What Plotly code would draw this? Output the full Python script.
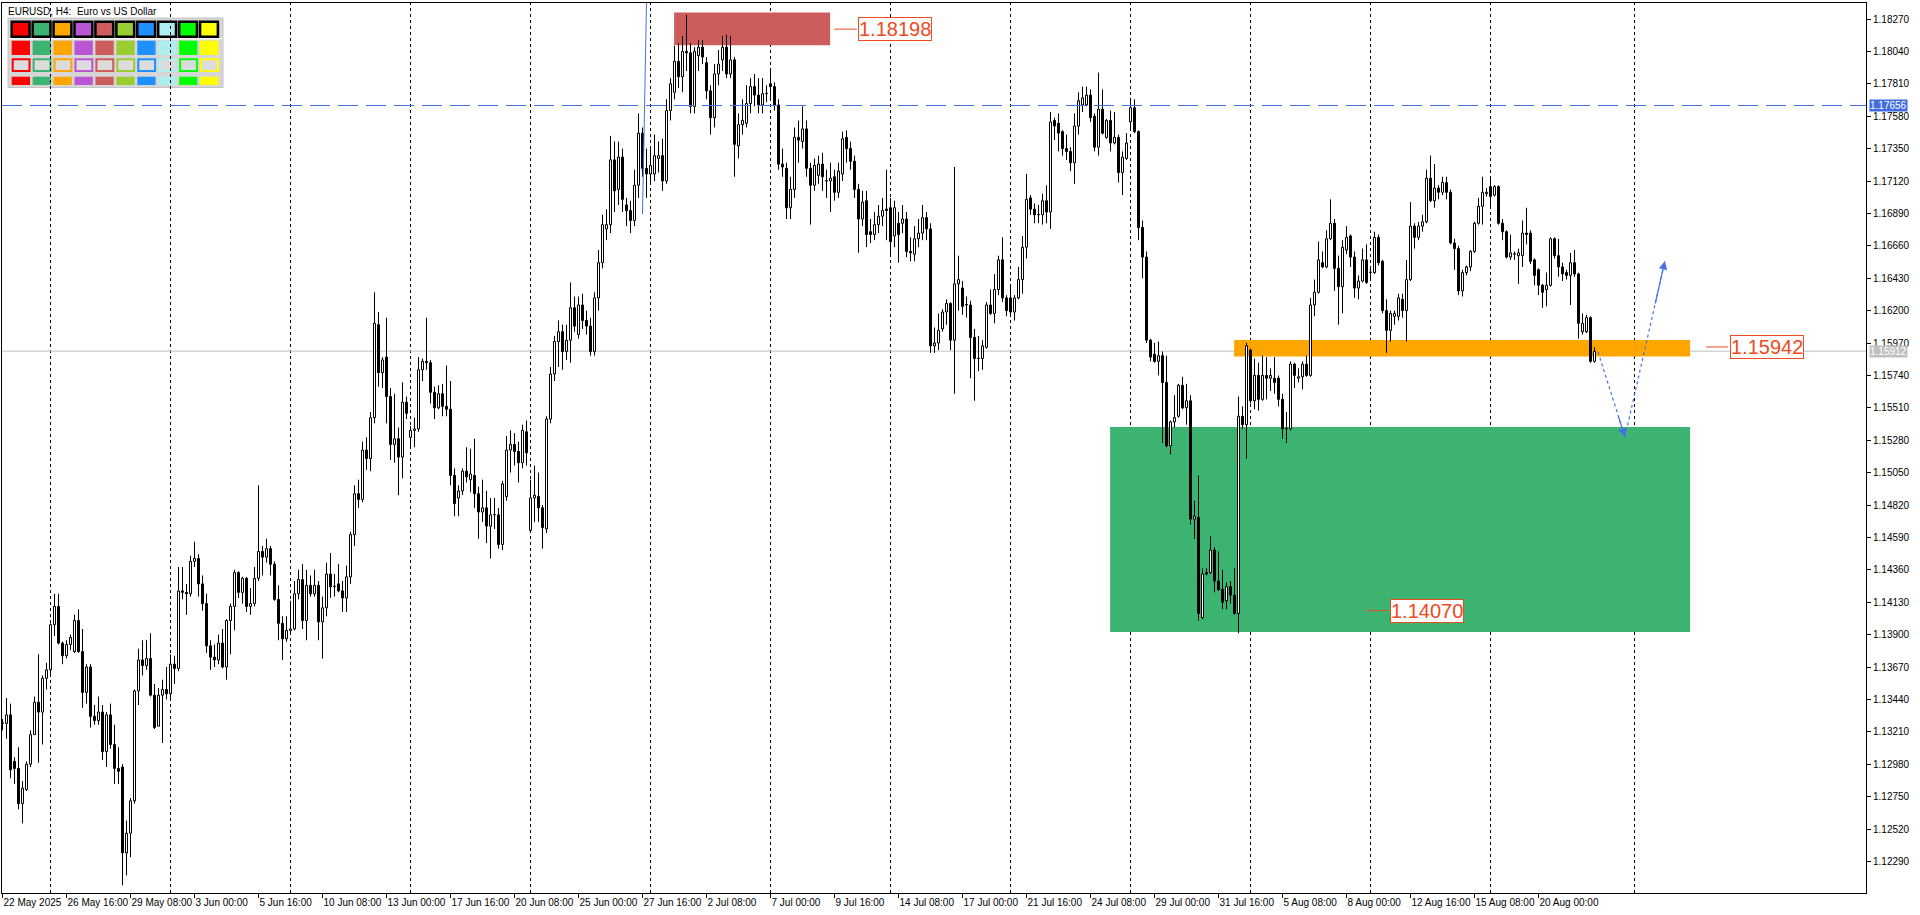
import plotly.graph_objects as go

# EURUSD H4 candles, bar 0 = 22 May 2025 00:00 ... bar 398 = 22 Aug 2025 08:00
OPEN = [
    1.1327, 1.1327, 1.1333, 1.1300, 1.1295, 1.1270, 1.1280, 1.1298, 1.1319, 1.1342,
    1.1335, 1.1359, 1.1365, 1.1397, 1.1410, 1.1384, 1.1375, 1.1383, 1.1378, 1.1400,
    1.1378, 1.1349, 1.1367, 1.1332, 1.1329, 1.1335, 1.1307, 1.1333, 1.1312, 1.1295,
    1.1296, 1.1235, 1.1249, 1.1272, 1.1350, 1.1372, 1.1368, 1.1373, 1.1347, 1.1325,
    1.1347, 1.1351, 1.1348, 1.1369, 1.1366, 1.1421, 1.1420, 1.1419, 1.1442, 1.1444,
    1.1426, 1.1412, 1.1382, 1.1374, 1.1372, 1.1384, 1.1367, 1.1400, 1.1410, 1.1434,
    1.1420, 1.1430, 1.1410, 1.1412, 1.1430, 1.1449, 1.1445, 1.1451, 1.1440, 1.1415,
    1.1398, 1.1387, 1.1393, 1.1394, 1.1419, 1.1429, 1.1400, 1.1425, 1.1419, 1.1425,
    1.1399, 1.1409, 1.1433, 1.1424, 1.1426, 1.1421, 1.1416, 1.1431, 1.1461, 1.1490,
    1.1486, 1.1521, 1.1515, 1.1544, 1.1610, 1.1576, 1.1587, 1.1559, 1.1525, 1.1529,
    1.1516, 1.1555, 1.1530, 1.1535, 1.1536, 1.1578, 1.1584, 1.1583, 1.1562, 1.1551,
    1.1561, 1.1552, 1.1550, 1.1503, 1.1487, 1.1492, 1.1506, 1.1500, 1.1503, 1.1490,
    1.1477, 1.1480, 1.1467, 1.1475, 1.1475, 1.1454, 1.1488, 1.1521, 1.1525, 1.1520,
    1.1512, 1.1534, 1.1464, 1.1487, 1.1488, 1.1480, 1.1465, 1.1543, 1.1575, 1.1598,
    1.1605, 1.1591, 1.1599, 1.1622, 1.1603, 1.1624, 1.1613, 1.1609, 1.1591, 1.1629,
    1.1654, 1.1678, 1.1681, 1.1727, 1.1706, 1.1729, 1.1695, 1.1691, 1.1684, 1.1709,
    1.1746, 1.1721, 1.1717, 1.1717, 1.1728, 1.1730, 1.1712, 1.1762, 1.1775, 1.1797,
    1.1786, 1.1804, 1.1803, 1.1765, 1.1801, 1.1807, 1.1796, 1.1776, 1.1757, 1.1788,
    1.1798, 1.1807, 1.1788, 1.1798, 1.1737, 1.1752, 1.1753, 1.1767, 1.1779, 1.1773,
    1.1766, 1.1774, 1.1781, 1.1779, 1.1766, 1.1724, 1.1721, 1.1693, 1.1706, 1.1743,
    1.1740, 1.1749, 1.1721, 1.1709, 1.1716, 1.1724, 1.1712, 1.1712, 1.1715, 1.1704,
    1.1717, 1.1743, 1.1735, 1.1726, 1.1706, 1.1685, 1.1698, 1.1676, 1.1674, 1.1681,
    1.1687, 1.1692, 1.1693, 1.1673, 1.1682, 1.1682, 1.1685, 1.1662, 1.1660, 1.1671,
    1.1675, 1.1686, 1.1678, 1.1595, 1.1597, 1.1607, 1.1619, 1.1625, 1.1599, 1.1639,
    1.1636, 1.1624, 1.1624, 1.1601, 1.1586, 1.1586, 1.1594, 1.1624, 1.1618, 1.1635,
    1.1656, 1.1629, 1.1629, 1.1619, 1.1629, 1.1642, 1.1665, 1.1700, 1.1692, 1.1688,
    1.1688, 1.1698, 1.1690, 1.1755, 1.1753, 1.1747, 1.1735, 1.1733, 1.1725, 1.1751,
    1.1766, 1.1766, 1.1773, 1.1758, 1.1736, 1.1763, 1.1743, 1.1755, 1.1739, 1.1743,
    1.1718, 1.1728, 1.1754, 1.1764, 1.1747, 1.1679, 1.1658, 1.1599, 1.1589, 1.1584,
    1.1588, 1.1569, 1.1524, 1.1541, 1.1545, 1.1567, 1.1551, 1.1556, 1.1472, 1.1473,
    1.1402, 1.1434, 1.1434, 1.1450, 1.1428, 1.1422, 1.1414, 1.1424, 1.1418, 1.1405,
    1.1545, 1.1539, 1.1592, 1.1556, 1.1574, 1.1557, 1.1574, 1.1572, 1.1572, 1.1572,
    1.1557, 1.1536, 1.1536, 1.1582, 1.1572, 1.1573, 1.1582, 1.1574, 1.1624, 1.1633,
    1.1654, 1.1651, 1.1671, 1.1682, 1.1650, 1.1637, 1.1663, 1.1673, 1.1658, 1.1636,
    1.1641, 1.1656, 1.1647, 1.1647, 1.1672, 1.1655, 1.1620, 1.1606, 1.1616, 1.1616,
    1.1628, 1.1620, 1.1642, 1.1680, 1.1672, 1.1680, 1.1683, 1.1714, 1.1698, 1.1707,
    1.1704, 1.1711, 1.1704, 1.1668, 1.1664, 1.1634, 1.1647, 1.1651, 1.1662, 1.1682,
    1.1694, 1.1703, 1.1708, 1.1702, 1.1708, 1.1682, 1.1676, 1.1658, 1.1660, 1.1659,
    1.1659, 1.1675, 1.1675, 1.1656, 1.1649, 1.1638, 1.1635, 1.1638, 1.1671, 1.1659,
    1.1651, 1.1647, 1.1645, 1.1654, 1.1646, 1.1605, 1.1605, 1.1615, 1.1584,
]
HIGH = [
    1.1330, 1.1345, 1.1341, 1.1303, 1.1310, 1.1286, 1.1300, 1.1322, 1.1346, 1.1376,
    1.1361, 1.1370, 1.1398, 1.1419, 1.1419, 1.1385, 1.1386, 1.1390, 1.1404, 1.1408,
    1.1394, 1.1369, 1.1369, 1.1340, 1.1346, 1.1340, 1.1335, 1.1341, 1.1326, 1.1310,
    1.1298, 1.1258, 1.1274, 1.1351, 1.1380, 1.1386, 1.1386, 1.1391, 1.1355, 1.1352,
    1.1358, 1.1367, 1.1376, 1.1375, 1.1438, 1.1438, 1.1426, 1.1446, 1.1456, 1.1447,
    1.1432, 1.1419, 1.1386, 1.1383, 1.1390, 1.1394, 1.1401, 1.1412, 1.1436, 1.1435,
    1.1431, 1.1431, 1.1423, 1.1438, 1.1496, 1.1453, 1.1458, 1.1453, 1.1442, 1.1425,
    1.1403, 1.1403, 1.1414, 1.1428, 1.1436, 1.1440, 1.1436, 1.1432, 1.1436, 1.1428,
    1.1417, 1.1441, 1.1448, 1.1433, 1.1440, 1.1428, 1.1439, 1.1463, 1.1496, 1.1500,
    1.1527, 1.1530, 1.1548, 1.1633, 1.1619, 1.1587, 1.1615, 1.1565, 1.1561, 1.1537,
    1.1569, 1.1559, 1.1538, 1.1544, 1.1587, 1.1586, 1.1615, 1.1585, 1.1566, 1.1567,
    1.1568, 1.1581, 1.1570, 1.1508, 1.1496, 1.1508, 1.1523, 1.1522, 1.1529, 1.1495,
    1.1500, 1.1492, 1.1487, 1.1487, 1.1480, 1.1499, 1.1531, 1.1535, 1.1533, 1.1527,
    1.1539, 1.1542, 1.1500, 1.1510, 1.1505, 1.1482, 1.1545, 1.1580, 1.1602, 1.1613,
    1.1610, 1.1610, 1.1640, 1.1630, 1.1630, 1.1632, 1.1620, 1.1615, 1.1633, 1.1663,
    1.1688, 1.1692, 1.1744, 1.1740, 1.1740, 1.1735, 1.1700, 1.1698, 1.1720, 1.1760,
    1.1750, 1.1735, 1.1735, 1.1745, 1.1740, 1.1742, 1.1770, 1.1785, 1.1808, 1.1810,
    1.1815, 1.1830, 1.1810, 1.1807, 1.1812, 1.1812, 1.1800, 1.1780, 1.1795, 1.1805,
    1.1815, 1.1816, 1.1815, 1.1800, 1.1760, 1.1770, 1.1780, 1.1785, 1.1788, 1.1785,
    1.1785, 1.1780, 1.1792, 1.1782, 1.1770, 1.1735, 1.1725, 1.1715, 1.1750, 1.1755,
    1.1765, 1.1755, 1.1725, 1.1728, 1.1730, 1.1732, 1.1720, 1.1725, 1.1720, 1.1725,
    1.1747, 1.1748, 1.1740, 1.1730, 1.1710, 1.1705, 1.1705, 1.1685, 1.1690, 1.1695,
    1.1700, 1.1720, 1.1700, 1.1698, 1.1690, 1.1695, 1.1690, 1.1672, 1.1680, 1.1685,
    1.1695, 1.1690, 1.1682, 1.1608, 1.1618, 1.1621, 1.1628, 1.1626, 1.1722, 1.1659,
    1.1641, 1.1630, 1.1627, 1.1607, 1.1602, 1.1599, 1.1626, 1.1635, 1.1646, 1.1659,
    1.1672, 1.1631, 1.1638, 1.1631, 1.1651, 1.1673, 1.1717, 1.1702, 1.1696, 1.1695,
    1.1703, 1.1709, 1.1761, 1.1757, 1.1760, 1.1748, 1.1745, 1.1736, 1.1760, 1.1775,
    1.1779, 1.1779, 1.1777, 1.1760, 1.1789, 1.1777, 1.1756, 1.1762, 1.1761, 1.1745,
    1.1733, 1.1746, 1.1771, 1.1770, 1.1748, 1.1684, 1.1662, 1.1600, 1.1597, 1.1598,
    1.1591, 1.1588, 1.1542, 1.1560, 1.1568, 1.1573, 1.1568, 1.1560, 1.1485, 1.1503,
    1.1437, 1.1437, 1.1460, 1.1452, 1.1449, 1.1436, 1.1427, 1.1428, 1.1437, 1.1559,
    1.1552, 1.1597, 1.1593, 1.1586, 1.1583, 1.1588, 1.1587, 1.1579, 1.1587, 1.1574,
    1.1561, 1.1548, 1.1584, 1.1583, 1.1579, 1.1584, 1.1588, 1.1629, 1.1642, 1.1669,
    1.1662, 1.1677, 1.1699, 1.1685, 1.1659, 1.1670, 1.1680, 1.1674, 1.1662, 1.1645,
    1.1664, 1.1667, 1.1651, 1.1676, 1.1674, 1.1656, 1.1628, 1.1620, 1.1620, 1.1632,
    1.1632, 1.1656, 1.1697, 1.1682, 1.1683, 1.1688, 1.1720, 1.1730, 1.1724, 1.1709,
    1.1715, 1.1715, 1.1706, 1.1671, 1.1666, 1.1649, 1.1652, 1.1663, 1.1683, 1.1700,
    1.1715, 1.1707, 1.1715, 1.1709, 1.1709, 1.1685, 1.1677, 1.1674, 1.1662, 1.1664,
    1.1684, 1.1693, 1.1677, 1.1657, 1.1650, 1.1639, 1.1647, 1.1672, 1.1672, 1.1671,
    1.1654, 1.1649, 1.1661, 1.1663, 1.1647, 1.1618, 1.1617, 1.1616, 1.1594,
]
LOW = [
    1.1322, 1.1316, 1.1288, 1.1284, 1.1266, 1.1256, 1.1279, 1.1296, 1.1319, 1.1299,
    1.1312, 1.1351, 1.1362, 1.1389, 1.1383, 1.1369, 1.1373, 1.1379, 1.1377, 1.1377,
    1.1338, 1.1341, 1.1324, 1.1326, 1.1326, 1.1301, 1.1296, 1.1309, 1.1284, 1.1284,
    1.1212, 1.1219, 1.1232, 1.1270, 1.1340, 1.1361, 1.1365, 1.1346, 1.1323, 1.1325,
    1.1313, 1.1344, 1.1345, 1.1355, 1.1364, 1.1415, 1.1404, 1.1417, 1.1438, 1.1417,
    1.1407, 1.1377, 1.1365, 1.1367, 1.1369, 1.1366, 1.1358, 1.1376, 1.1393, 1.1416,
    1.1412, 1.1406, 1.1404, 1.1410, 1.1428, 1.1432, 1.1441, 1.1432, 1.1414, 1.1386,
    1.1372, 1.1385, 1.1390, 1.1393, 1.1415, 1.1394, 1.1386, 1.1417, 1.1417, 1.1386,
    1.1373, 1.1403, 1.1416, 1.1417, 1.1420, 1.1406, 1.1406, 1.1426, 1.1453, 1.1480,
    1.1484, 1.1507, 1.1506, 1.1540, 1.1566, 1.1565, 1.1540, 1.1514, 1.1512, 1.1489,
    1.1501, 1.1543, 1.1523, 1.1523, 1.1534, 1.1570, 1.1578, 1.1554, 1.1543, 1.1550,
    1.1545, 1.1545, 1.1496, 1.1474, 1.1474, 1.1489, 1.1498, 1.1491, 1.1480, 1.1458,
    1.1470, 1.1455, 1.1444, 1.1465, 1.1451, 1.1450, 1.1485, 1.1505, 1.1510, 1.1498,
    1.1508, 1.1510, 1.1462, 1.1470, 1.1470, 1.1451, 1.1462, 1.1540, 1.1570, 1.1580,
    1.1578, 1.1585, 1.1583, 1.1605, 1.1600, 1.1607, 1.1603, 1.1588, 1.1588, 1.1620,
    1.1650, 1.1670, 1.1675, 1.1690, 1.1695, 1.1690, 1.1680, 1.1675, 1.1680, 1.1700,
    1.1715, 1.1700, 1.1710, 1.1712, 1.1718, 1.1705, 1.1710, 1.1755, 1.1770, 1.1778,
    1.1775, 1.1790, 1.1760, 1.1760, 1.1790, 1.1795, 1.1770, 1.1745, 1.1750, 1.1780,
    1.1790, 1.1785, 1.1785, 1.1715, 1.1728, 1.1745, 1.1750, 1.1760, 1.1765, 1.1760,
    1.1760, 1.1768, 1.1770, 1.1762, 1.1720, 1.1715, 1.1685, 1.1685, 1.1700, 1.1725,
    1.1735, 1.1715, 1.1681, 1.1705, 1.1710, 1.1705, 1.1700, 1.1690, 1.1698, 1.1700,
    1.1712, 1.1725, 1.1720, 1.1700, 1.1661, 1.1680, 1.1665, 1.1668, 1.1670, 1.1675,
    1.1680, 1.1670, 1.1660, 1.1665, 1.1654, 1.1675, 1.1658, 1.1655, 1.1655, 1.1665,
    1.1670, 1.1670, 1.1590, 1.1590, 1.1592, 1.1605, 1.1610, 1.1592, 1.1561, 1.1620,
    1.1617, 1.1615, 1.1572, 1.1556, 1.1577, 1.1578, 1.1593, 1.1617, 1.1611, 1.1631,
    1.1626, 1.1616, 1.1616, 1.1613, 1.1628, 1.1632, 1.1657, 1.1688, 1.1682, 1.1682,
    1.1681, 1.1682, 1.1678, 1.1741, 1.1733, 1.1730, 1.1727, 1.1719, 1.1710, 1.1745,
    1.1761, 1.1765, 1.1754, 1.1733, 1.1730, 1.1745, 1.1742, 1.1733, 1.1738, 1.1711,
    1.1702, 1.1727, 1.1748, 1.1746, 1.1670, 1.1643, 1.1597, 1.1584, 1.1583, 1.1574,
    1.1526, 1.1523, 1.1518, 1.1537, 1.1544, 1.1550, 1.1539, 1.1468, 1.1458, 1.1400,
    1.1401, 1.1432, 1.1433, 1.1420, 1.1421, 1.1408, 1.1408, 1.1412, 1.1404, 1.1391,
    1.1536, 1.1515, 1.1554, 1.1550, 1.1549, 1.1556, 1.1557, 1.1563, 1.1561, 1.1552,
    1.1529, 1.1526, 1.1535, 1.1565, 1.1569, 1.1564, 1.1573, 1.1573, 1.1616, 1.1632,
    1.1650, 1.1650, 1.1670, 1.1634, 1.1610, 1.1618, 1.1660, 1.1651, 1.1629, 1.1628,
    1.1640, 1.1639, 1.1643, 1.1646, 1.1652, 1.1618, 1.1590, 1.1598, 1.1610, 1.1613,
    1.1615, 1.1598, 1.1641, 1.1664, 1.1670, 1.1676, 1.1682, 1.1697, 1.1693, 1.1699,
    1.1702, 1.1699, 1.1667, 1.1649, 1.1631, 1.1630, 1.1645, 1.1648, 1.1661, 1.1681,
    1.1681, 1.1701, 1.1694, 1.1701, 1.1681, 1.1670, 1.1657, 1.1656, 1.1656, 1.1639,
    1.1651, 1.1667, 1.1653, 1.1638, 1.1631, 1.1622, 1.1623, 1.1637, 1.1657, 1.1644,
    1.1641, 1.1642, 1.1624, 1.1644, 1.1600, 1.1603, 1.1604, 1.1583, 1.1583,
]
CLOSE = [
    1.1327, 1.1333, 1.1294, 1.1295, 1.1270, 1.1281, 1.1298, 1.1319, 1.1342, 1.1335,
    1.1359, 1.1365, 1.1397, 1.1410, 1.1384, 1.1375, 1.1383, 1.1388, 1.1400, 1.1378,
    1.1349, 1.1367, 1.1332, 1.1329, 1.1335, 1.1307, 1.1333, 1.1312, 1.1295, 1.1293,
    1.1235, 1.1249, 1.1272, 1.1350, 1.1372, 1.1368, 1.1373, 1.1347, 1.1324, 1.1347,
    1.1351, 1.1348, 1.1369, 1.1366, 1.1421, 1.1420, 1.1419, 1.1442, 1.1444, 1.1426,
    1.1412, 1.1382, 1.1374, 1.1372, 1.1384, 1.1367, 1.1400, 1.1410, 1.1434, 1.1420,
    1.1430, 1.1410, 1.1412, 1.1430, 1.1449, 1.1445, 1.1451, 1.1440, 1.1415, 1.1398,
    1.1387, 1.1393, 1.1394, 1.1419, 1.1429, 1.1400, 1.1425, 1.1419, 1.1425, 1.1399,
    1.1409, 1.1433, 1.1424, 1.1424, 1.1421, 1.1416, 1.1431, 1.1461, 1.1490, 1.1486,
    1.1521, 1.1515, 1.1544, 1.1611, 1.1576, 1.1585, 1.1559, 1.1525, 1.1529, 1.1516,
    1.1555, 1.1547, 1.1535, 1.1536, 1.1578, 1.1584, 1.1583, 1.1562, 1.1551, 1.1561,
    1.1552, 1.1550, 1.1503, 1.1483, 1.1492, 1.1506, 1.1502, 1.1504, 1.1490, 1.1477,
    1.1480, 1.1467, 1.1475, 1.1475, 1.1454, 1.1497, 1.1521, 1.1525, 1.1520, 1.1512,
    1.1535, 1.1519, 1.1487, 1.1489, 1.1480, 1.1466, 1.1543, 1.1575, 1.1598, 1.1605,
    1.1591, 1.1599, 1.1622, 1.1609, 1.1624, 1.1613, 1.1609, 1.1591, 1.1629, 1.1654,
    1.1681, 1.1681, 1.1727, 1.1705, 1.1729, 1.1699, 1.1691, 1.1684, 1.1709, 1.1746,
    1.1721, 1.1717, 1.1723, 1.1730, 1.1730, 1.1712, 1.1762, 1.1781, 1.1797, 1.1786,
    1.1804, 1.1803, 1.1765, 1.1804, 1.1807, 1.1800, 1.1776, 1.1757, 1.1788, 1.1795,
    1.1807, 1.1788, 1.1798, 1.1738, 1.1752, 1.1755, 1.1767, 1.1779, 1.1773, 1.1766,
    1.1774, 1.1774, 1.1779, 1.1766, 1.1724, 1.1722, 1.1693, 1.1706, 1.1743, 1.1741,
    1.1749, 1.1721, 1.1709, 1.1723, 1.1724, 1.1715, 1.1712, 1.1714, 1.1704, 1.1719,
    1.1742, 1.1735, 1.1726, 1.1706, 1.1685, 1.1697, 1.1674, 1.1674, 1.1681, 1.1687,
    1.1691, 1.1691, 1.1669, 1.1693, 1.1674, 1.1685, 1.1662, 1.1661, 1.1671, 1.1675,
    1.1686, 1.1678, 1.1595, 1.1597, 1.1606, 1.1619, 1.1625, 1.1599, 1.1639, 1.1642,
    1.1623, 1.1624, 1.1601, 1.1586, 1.1586, 1.1595, 1.1624, 1.1618, 1.1635, 1.1656,
    1.1629, 1.1620, 1.1619, 1.1629, 1.1642, 1.1665, 1.1699, 1.1692, 1.1688, 1.1688,
    1.1698, 1.1690, 1.1754, 1.1751, 1.1746, 1.1735, 1.1733, 1.1725, 1.1751, 1.1769,
    1.1771, 1.1773, 1.1757, 1.1736, 1.1763, 1.1746, 1.1755, 1.1739, 1.1743, 1.1718,
    1.1729, 1.1739, 1.1764, 1.1747, 1.1679, 1.1658, 1.1599, 1.1587, 1.1584, 1.1588,
    1.1569, 1.1524, 1.1541, 1.1544, 1.1567, 1.1551, 1.1556, 1.1472, 1.1474, 1.1405,
    1.1433, 1.1433, 1.1450, 1.1428, 1.1422, 1.1413, 1.1424, 1.1418, 1.1405, 1.1545,
    1.1539, 1.1595, 1.1556, 1.1574, 1.1557, 1.1574, 1.1572, 1.1574, 1.1569, 1.1557,
    1.1536, 1.1536, 1.1582, 1.1574, 1.1573, 1.1582, 1.1574, 1.1624, 1.1633, 1.1656,
    1.1651, 1.1671, 1.1682, 1.1650, 1.1637, 1.1665, 1.1672, 1.1658, 1.1636, 1.1641,
    1.1656, 1.1640, 1.1647, 1.1672, 1.1654, 1.1620, 1.1606, 1.1618, 1.1618, 1.1629,
    1.1620, 1.1642, 1.1680, 1.1672, 1.1680, 1.1683, 1.1714, 1.1698, 1.1707, 1.1704,
    1.1711, 1.1704, 1.1668, 1.1664, 1.1634, 1.1647, 1.1651, 1.1662, 1.1682, 1.1694,
    1.1704, 1.1704, 1.1701, 1.1708, 1.1682, 1.1676, 1.1658, 1.1661, 1.1660, 1.1661,
    1.1675, 1.1674, 1.1655, 1.1645, 1.1638, 1.1633, 1.1638, 1.1671, 1.1659, 1.1651,
    1.1646, 1.1645, 1.1654, 1.1646, 1.1611, 1.1611, 1.1615, 1.1584, 1.1591,
]

# time scale: one label every 16 bars
TIME_LABELS = [
    "22 May 2025", "26 May 16:00", "29 May 08:00", "3 Jun 00:00", "5 Jun 16:00",
    "10 Jun 08:00", "13 Jun 00:00", "17 Jun 16:00", "20 Jun 08:00", "25 Jun 00:00",
    "27 Jun 16:00", "2 Jul 08:00", "7 Jul 00:00", "9 Jul 16:00", "14 Jul 08:00",
    "17 Jul 00:00", "21 Jul 16:00", "24 Jul 08:00", "29 Jul 00:00", "31 Jul 16:00",
    "5 Aug 08:00", "8 Aug 00:00", "12 Aug 16:00", "15 Aug 08:00", "20 Aug 00:00",
]
LABEL_EVERY = 16
WEEK_START_BARS = [12, 42, 72, 102, 132, 162, 192, 222, 252, 282, 312, 342, 372, 408]

PRICE_LABELS = [
    "1.12290", "1.12520", "1.12750", "1.12980", "1.13210", "1.13440", "1.13670",
    "1.13900", "1.14130", "1.14360", "1.14590", "1.14820", "1.15050", "1.15280",
    "1.15510", "1.15740", "1.15970", "1.16200", "1.16430", "1.16660", "1.16890",
    "1.17120", "1.17350", "1.17580", "1.17810", "1.18040", "1.18270",
]

BID = 1.15912
BLUE_LEVEL = 1.17656

# drawn zones (bar index from/to, price low/high)
ZONE_COLORS = ['#3CB371', '#FFA500', '#CD5C5C']
ZONE_FROM = [276.9, 307.9, 167.9]
ZONE_TO = [421.9, 421.9, 206.9]
ZONE_LOW = [1.13918, 1.15875, 1.18083]
ZONE_HIGH = [1.15374, 1.15992, 1.18316]

# price callouts
CALLOUT_PRICES = [1.18198, 1.15942, 1.14070]
CALLOUT_X = [223.1, 441.1, 356.0]
LEADER_FROM = [207.9, 425.9, 340.9]
LEADER_TO = [213.6, 431.4, 346.4]

# projected path (bar index, price)
PATH_BARS = [398.9, 405.6, 415.6]
PATH_PRICES = [1.15906, 1.15303, 1.16552]
TREND_BARS = [160.0, 161.0]
TREND_PRICES = [1.16886, 1.18384]

PALETTE = ['#FF0000', '#3CB371', '#FFA500', '#BA55D3', '#CD5C5C',
           '#9ACD32', '#1E90FF', '#AFEEEE', '#00FF00', '#FFFF00']

# plot area geometry
W, H = 1920, 915
M_L, M_R, M_T, M_B = 2, 54, 3, 22
PLOT_W = W - M_L - M_R
PLOT_H = H - M_T - M_B
PX_PER_BAR = 4
X_RANGE = [-0.125, -0.125 + PLOT_W / PX_PER_BAR]
Y_RANGE = [1.120657, 1.183836]

LABEL_RED = '#EE4A22'
BLUE = '#4472E4'
FONT = 'Liberation Sans, Arial, sans-serif'


def paper_x(px):
    return (px - M_L) / PLOT_W


def paper_y(py):
    return 1 - (py - M_T) / PLOT_H


n = len(CLOSE)
bars = list(range(n))

# wick pieces above and below each body, so hollow bodies stay white inside
wick_x, wick_y = [], []
for i, o, h, l, c in zip(bars, OPEN, HIGH, LOW, CLOSE):
    top, bot = max(o, c), min(o, c)
    if h > top:
        wick_x += [i, i, None]
        wick_y += [top, h, None]
    if l < bot:
        wick_x += [i, i, None]
        wick_y += [l, bot, None]

body_base = [min(o, c) for o, c in zip(OPEN, CLOSE)]
body_len = [max(abs(c - o), 0.00003) for o, c in zip(OPEN, CLOSE)]
body_fill = ['white' if c >= o else 'black' for o, c in zip(OPEN, CLOSE)]

fig = go.Figure()
fig.add_trace(go.Scatter(
    x=wick_x, y=wick_y, mode='lines',
    line=dict(color='black', width=1),
    hoverinfo='skip', showlegend=False
))
fig.add_trace(go.Bar(
    x=bars, y=body_len, base=body_base, width=0.5,
    marker=dict(color=body_fill, line=dict(color='black', width=1)),
    hoverinfo='skip', showlegend=False
))

shapes = []

# colour palette panel in the top-left corner
shapes.append(dict(type='rect', xref='paper', yref='paper',
                   x0=paper_x(8), x1=paper_x(223), y0=paper_y(18), y1=paper_y(87.5),
                   fillcolor='#d6d6d6', line=dict(color='#c4c4c4', width=1), layer='below'))
shapes.append(dict(type='line', xref='paper', yref='paper',
                   x0=paper_x(9), x1=paper_x(222), y0=paper_y(38.7), y1=paper_y(38.7),
                   line=dict(color='white', width=1.5), layer='below'))
for k, col in enumerate(PALETTE):
    x0 = 11.7 + 20.93 * k
    x1 = x0 + 17.8
    shapes.append(dict(type='rect', xref='paper', yref='paper',
                       x0=paper_x(x0 + 1.5), x1=paper_x(x1 + 1.5), y0=paper_y(23.2), y1=paper_y(38.2),
                       fillcolor='#a8a8a8', line=dict(width=0), layer='below'))
    shapes.append(dict(type='rect', xref='paper', yref='paper',
                       x0=paper_x(x0), x1=paper_x(x1), y0=paper_y(21.7), y1=paper_y(36.7),
                       fillcolor=col, line=dict(color='black', width=2.5), layer='below'))
    shapes.append(dict(type='rect', xref='paper', yref='paper',
                       x0=paper_x(x0), x1=paper_x(x1 + 0.5), y0=paper_y(40.7), y1=paper_y(55),
                       fillcolor=col, line=dict(width=0), layer='below'))
    shapes.append(dict(type='rect', xref='paper', yref='paper',
                       x0=paper_x(x0 + 1), x1=paper_x(x1), y0=paper_y(59.3), y1=paper_y(71),
                       fillcolor='#dcdcdc', line=dict(color=col, width=2), layer='below'))
    shapes.append(dict(type='rect', xref='paper', yref='paper',
                       x0=paper_x(x0), x1=paper_x(x1 + 0.5), y0=paper_y(76.7), y1=paper_y(85),
                       fillcolor=col, line=dict(width=0), layer='below'))

# zones
for col, x0, x1, lo, hi in zip(ZONE_COLORS, ZONE_FROM, ZONE_TO, ZONE_LOW, ZONE_HIGH):
    shapes.append(dict(type='rect', xref='x', yref='y', x0=x0, x1=x1, y0=lo, y1=hi,
                       fillcolor=col, line=dict(width=0), layer='below'))

# weekly separators
for b in WEEK_START_BARS:
    shapes.append(dict(type='line', xref='x', yref='paper', x0=b, x1=b, y0=0, y1=1,
                       line=dict(color='black', width=1, dash='dot'), layer='below'))

# bid line
shapes.append(dict(type='line', xref='paper', yref='y', x0=0, x1=1, y0=BID, y1=BID,
                   line=dict(color='#c0c0c0', width=1), layer='below'))

# blue horizontal level
shapes.append(dict(type='line', xref='paper', yref='y', x0=0, x1=1,
                   y0=BLUE_LEVEL, y1=BLUE_LEVEL,
                   line=dict(color=BLUE, width=1, dash='20px,8px')))

# near-vertical trend line at the top
shapes.append(dict(type='line', xref='x', yref='y',
                   x0=TREND_BARS[0], x1=TREND_BARS[1], y0=TREND_PRICES[0], y1=TREND_PRICES[1],
                   line=dict(color=BLUE, width=1)))

# leader lines of the callouts
for p, a, b in zip(CALLOUT_PRICES, LEADER_FROM, LEADER_TO):
    shapes.append(dict(type='line', xref='x', yref='y', x0=a, x1=b, y0=p, y1=p,
                       line=dict(color=LABEL_RED, width=1)))

# projected path segments (dotted)
for k in range(len(PATH_BARS) - 1):
    shapes.append(dict(type='line', xref='x', yref='y',
                       x0=PATH_BARS[k], x1=PATH_BARS[k + 1],
                       y0=PATH_PRICES[k], y1=PATH_PRICES[k + 1],
                       line=dict(color=BLUE, width=1.2, dash='dot')))

annotations = []
for p, x in zip(CALLOUT_PRICES, CALLOUT_X):
    annotations.append(dict(
        x=x, y=p, xref='x', yref='y', text=f"{p:.5f}", showarrow=False,
        font=dict(family=FONT, size=20, color=LABEL_RED),
        bgcolor='white', bordercolor=LABEL_RED, borderwidth=1, borderpad=0,
        xanchor='center', yanchor='middle'
    ))

# arrow heads at the end of each path segment
for k in range(len(PATH_BARS) - 1):
    dx = PATH_BARS[k + 1] - PATH_BARS[k]
    dy = PATH_PRICES[k + 1] - PATH_PRICES[k]
    annotations.append(dict(
        x=PATH_BARS[k + 1], y=PATH_PRICES[k + 1], xref='x', yref='y',
        ax=PATH_BARS[k + 1] - 0.25 * dx, ay=PATH_PRICES[k + 1] - 0.25 * dy,
        axref='x', ayref='y', text='', showarrow=True,
        arrowhead=2, arrowsize=1.4, arrowwidth=1.2, arrowcolor=BLUE
    ))

# price tags on the axis
for p, bg in [(BLUE_LEVEL, '#3F6DE0'), (BID, '#c0c0c0')]:
    annotations.append(dict(
        x=1, y=p, xref='paper', yref='y', xanchor='left', yanchor='middle',
        xshift=3, text=f"{p:.5f}", showarrow=False,
        font=dict(family=FONT, size=10, color='white'),
        bgcolor=bg, borderpad=0
    ))

annotations.append(dict(
    x=0, y=1, xref='paper', yref='paper', xanchor='left', yanchor='top',
    xshift=4, yshift=-1, showarrow=False,
    text="EURUSD, H4:\u00a0 Euro vs US Dollar",
    font=dict(family=FONT, size=10, color='black')
))

fig.update_layout(
    template='none',
    width=W, height=H,
    margin=dict(l=M_L, r=M_R, t=M_T, b=M_B, autoexpand=False),
    plot_bgcolor='white', paper_bgcolor='white',
    showlegend=False, hovermode=False,
    barmode='overlay',
    font=dict(family=FONT, size=10, color='black'),
    shapes=shapes, annotations=annotations,
)

fig.update_xaxes(
    range=X_RANGE,
    tickmode='array',
    tickvals=[LABEL_EVERY * k for k in range(len(TIME_LABELS))],
    ticktext=TIME_LABELS,
    tickangle=0,
    ticks='outside', ticklen=4, tickcolor='black', tickwidth=1,
    ticklabelposition='outside right',
    tickfont=dict(family=FONT, size=10, color='black'),
    showline=True, linecolor='black', linewidth=1, mirror=True,
    showgrid=False, zeroline=False, fixedrange=True, automargin=False,
)

fig.update_yaxes(
    range=Y_RANGE, side='right',
    tickmode='array',
    tickvals=[float(s) for s in PRICE_LABELS],
    ticktext=PRICE_LABELS,
    ticks='outside', ticklen=4, tickcolor='black', tickwidth=1,
    tickfont=dict(family=FONT, size=10, color='black'),
    showline=True, linecolor='black', linewidth=1, mirror=True,
    showgrid=False, zeroline=False, fixedrange=True, automargin=False,
)

fig.write_html(
    "out.html",
    config={'displayModeBar': False},
    post_script="document.body.style.margin='0';",
)
